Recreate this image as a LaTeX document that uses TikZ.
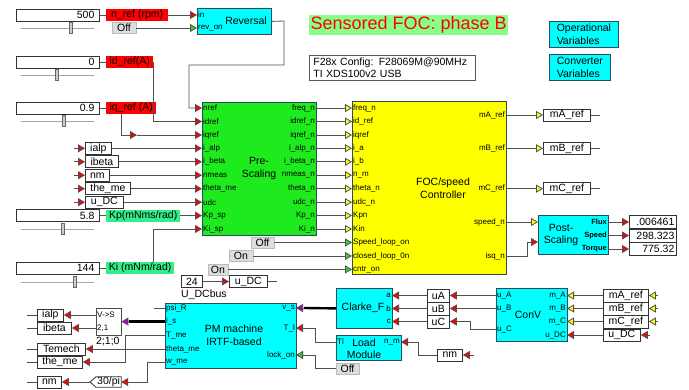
\documentclass[tikz,border=0pt]{standalone}
\usepackage{fontspec}
\setmainfont{Liberation Sans}
\usetikzlibrary{arrows.meta,positioning}
\definecolor{BlkCyan}{HTML}{00FFFF}
\definecolor{BlkEdge}{HTML}{2E4A5A}
\definecolor{PreGreen}{HTML}{1EEB1E}
\definecolor{FocYellow}{HTML}{FFFF00}
\definecolor{SigRed}{HTML}{FF0000}
\definecolor{SigYellow}{HTML}{FFFF00}
\definecolor{SigGreen}{HTML}{22DD22}
\definecolor{SigPurple}{HTML}{B000C8}
\definecolor{GainGreen}{HTML}{33EE88}
\definecolor{TitleGreen}{HTML}{88FF88}
\definecolor{BtnGray}{HTML}{DDDDDD}
\definecolor{BtnEdge}{HTML}{BBBBBB}
\definecolor{WireGray}{HTML}{505050}
\definecolor{TagEdge}{HTML}{333333}

\begin{document}
\begin{tikzpicture}[x=1pt, y=-1pt,
  font=\fontsize{10.5}{12.5}\selectfont,
  wire/.style={draw=WireGray, line width=0.8pt},
  tored/.style={wire, -{Triangle[length=7pt,width=8pt,fill=SigRed]}},
  toyel/.style={wire, -{Triangle[length=7pt,width=8pt,fill=SigYellow]}},
  togrn/.style={wire, -{Triangle[length=7pt,width=8pt,fill=SigGreen]}},
  topur/.style={wire, -{Triangle[length=7pt,width=8pt,fill=SigPurple]}},
  bus/.style={draw=black, line width=2.4pt},
  blk/.style={draw=BlkEdge, line width=0.8pt, fill=BlkCyan, inner sep=0pt, anchor=north west},
  blktitle/.style={align=center, inner sep=0pt},
  portl/.style={font=\fontsize{8}{9}\selectfont, inner sep=1pt, anchor=west},
  portr/.style={font=\fontsize{8}{9}\selectfont, inner sep=1pt, anchor=east},
  gototag/.style={draw=TagEdge, line width=0.8pt, fill=white, minimum height=12pt, inner sep=0pt, anchor=west},
  sigred/.style={fill=SigRed, minimum height=12pt, inner sep=0pt, anchor=west},
  siggreen/.style={fill=GainGreen, minimum height=12pt, inner sep=0pt, anchor=west},
  slbox/.style={draw=TagEdge, line width=0.8pt, fill=white, text width=73pt, align=right,
    inner xsep=5pt, inner ysep=0pt, minimum height=12pt, anchor=west},
  track/.style={draw=gray!70, line width=1pt},
  knob/.style={draw=gray!80!black, fill=gray!40, minimum width=3pt, minimum height=11pt, inner sep=0pt},
  btn/.style={draw=BtnEdge, fill=BtnGray, minimum height=11pt, inner sep=0pt},
  disp/.style={draw=TagEdge, line width=0.8pt, fill=white, text width=43pt, align=right,
    inner xsep=2pt, inner ysep=0pt, minimum height=13pt, anchor=west}
]
\useasboundingbox (0,0) rectangle (689,389);

% title and notes
\node[fill=TitleGreen, text=SigRed, font=\fontsize{18}{20}\selectfont, minimum width=199pt,
  minimum height=20pt, inner sep=0pt, anchor=north west] (title) at (309,15) {Sensored FOC: phase B};
\node[draw=gray!70!black, line width=0.8pt, align=left, anchor=north west, text width=158pt,
  minimum height=25pt, inner xsep=4pt, inner ysep=0pt] (config) at (309,55) {F28x Config: F28069M@90MHz\\TI XDS100v2 USB};
\node[blk, align=left, minimum width=69pt, minimum height=26pt] (opvars) at (549,21) {Operational\\Variables};
\node[blk, align=left, minimum width=61pt, minimum height=26pt] (cvvars) at (549,54) {Converter\\Variables};

% speed reference and reversal
\node[slbox] (nrefsl) at (16,15) {500};
\draw[track] (21,28) -- (94,28);
\node[knob] (nrefknob) at (71,28) {};
\node[sigred, minimum width=62pt] (nreflbl) at (106,15) {n\_ref (rpm)};
\node[btn, minimum width=24pt] (revbtn) at (124,28) {Off};
\node[blk, minimum width=74pt, minimum height=26pt] (rev) at (197,8) {};
\node[blktitle] (revtitle) at (246,21) {Reversal};
\node[portl] (rev-in) at (197,15) {in};
\node[portl] (rev-on) at (197,28) {rev\_on};
\draw[wire] (nrefsl.east) -- (nreflbl.west);
\draw[tored] (nreflbl.east) -- (rev-in.west);
\draw[togrn] (revbtn.east) -- (rev-on.west);

% current references
\node[slbox] (idsl) at (16,62) {0};
\draw[track] (21,75) -- (94,75);
\node[knob] (idknob) at (57,75) {};
\node[sigred, minimum width=47pt] (idlbl) at (106,62) {id\_ref(A)};
\draw[wire] (idsl.east) -- (idlbl.west);
\node[slbox] (iqsl) at (16,108) {0.9};
\draw[track] (21,121) -- (94,121);
\node[knob] (iqknob) at (64,121) {};
\node[sigred, minimum width=50pt] (iqlbl) at (106,108) {iq\_ref (A)};
\draw[wire] (iqsl.east) -- (iqlbl.west);

% Pre-Scaling
\node[blk, fill=PreGreen, minimum width=114pt, minimum height=133pt] (pre) at (202,102) {};
\node[blktitle] (pretitle) at (259,168.5) {Pre-\\Scaling};
\foreach \pid/\ptxt/\py in {nref/nref/108, idref/idref/121.5, iqref/iqref/135, ialp/i\_alp/148.3,
  ibeta/i\_beta/161.8, nmeas/nmeas/175.2, theta/theta\_me/188.7, udc/udc/202.2, kp/Kp\_sp/215.6, ki/Ki\_sp/229}
  \node[portl] (pre-\pid) at (202,\py) {\ptxt};
\foreach \pid/\ptxt/\py in {freq/freq\_n/108, idref/idref\_n/121.5, iqref/iqref\_n/135, ia/i\_alp\_n/148.3,
  ib/i\_beta\_n/161.8, nm/nmeas\_n/175.2, theta/theta\_n/188.7, udc/udc\_n/202.2, kp/Kp\_n/215.6, ki/Ki\_n/229}
  \node[portr] (preo-\pid) at (316,\py) {\ptxt};

% FOC/speed controller
\node[blk, fill=FocYellow, minimum width=154pt, minimum height=173pt] (foc) at (352,101) {};
\node[blktitle] (foctitle) at (443,188) {FOC/speed\\Controller};
\foreach \pid/\ptxt/\py in {freq/freq\_n/108, idref/id\_ref/121.5, iqref/iqref/135, ia/i\_a/148.3,
  ib/i\_b/161.8, nm/n\_m/175.2, theta/theta\_n/188.7, udc/udc\_n/202.2, kp/Kpn/215.6, ki/Kin/229,
  spd/Speed\_loop\_on/242.5, cl/closed\_loop\_0n/256, cntr/cntr\_on/269.4}
  \node[portl] (foc-\pid) at (352,\py) {\ptxt};
\foreach \pid/\ptxt/\py in {ma/mA\_ref/115, mb/mB\_ref/148.3, mc/mC\_ref/188.7, speed/speed\_n/222, isq/isq\_n/256}
  \node[portr] (foco-\pid) at (506,\py) {\ptxt};
\foreach \pid in {freq, idref, iqref, ia, ib, nm, theta, udc, kp, ki}
  \draw[toyel] (preo-\pid.east) -- (foc-\pid.west);

% inputs of Pre-Scaling
\draw[tored] (rev.east) -- (284,21) -- (284,65) -- (189,65) |- (pre-nref.west);
\draw[tored] (idlbl.east) |- (pre-idref.west);
\coordinate (iqdrop) at (121,114);
\coordinate (iqmid) at (137,135);
\draw[tored] (iqdrop) |- (iqmid);
\draw[tored] (iqmid) -- (pre-iqref.west);
\foreach \tid/\ttxt/\tw/\ty in {ialp/ialp/26pt/148.3, ibeta/ibeta/33pt/161.8, nmeas/nm/24pt/175.2,
  theta/the\_me/45pt/188.7, udc/u\_DC/38pt/202.2}
{
  \node[gototag, minimum width=\tw] (tagL-\tid) at (85,\ty) {\ttxt};
  \coordinate (tagL-\tid-in) at (74,\ty);
  \draw[tored] (tagL-\tid-in) -- (tagL-\tid.west);
  \draw[tored] (tagL-\tid.east) -- (pre-\tid.west);
}
\node[slbox] (kpsl) at (16,215.6) {5.8};
\draw[track] (21,229) -- (94,229);
\node[knob] (kpknob) at (63,229) {};
\node[siggreen, minimum width=74pt] (kplbl) at (106,215.6) {Kp(mNms/rad)};
\draw[wire] (kpsl.east) -- (kplbl.west);
\draw[tored] (kplbl.east) -- (pre-kp.west);
\node[slbox] (kisl) at (16,268) {144};
\draw[track] (21,282) -- (94,282);
\node[knob] (kiknob) at (75,282) {};
\node[siggreen, minimum width=68pt] (kilbl) at (106,268) {Ki (mNm/rad)};
\draw[wire] (kisl.east) -- (kilbl.west);
\coordinate (kirise) at (153,262);
\draw[tored] (kirise) |- (pre-ki.west);

% loop switches
\node[btn, minimum width=23pt] (spdbtn) at (262.5,242.5) {Off};
\node[btn, minimum width=24pt] (clbtn) at (241,256) {On};
\node[btn, minimum width=20pt] (cntrbtn) at (218,269.4) {On};
\draw[togrn] (spdbtn.east) -- (foc-spd.west);
\draw[togrn] (clbtn.east) -- (foc-cl.west);
\draw[togrn] (cntrbtn.east) -- (foc-cntr.west);

% controller outputs
\foreach \tid/\ttxt/\ty in {ma/mA\_ref/115, mb/mB\_ref/148.3, mc/mC\_ref/188.7}
{
  \node[gototag, minimum width=47pt] (tagF-\tid) at (543,\ty) {\ttxt};
  \coordinate (tagF-\tid-out) at (600,\ty);
  \draw[toyel] (foco-\tid.east) -- (tagF-\tid.west);
  \draw[wire] (tagF-\tid.east) -- (tagF-\tid-out);
}
\node[blk, minimum width=70pt, minimum height=39pt] (post) at (538,215) {};
\node[blktitle] (posttitle) at (561,235) {Post-\\Scaling};
\coordinate (post-spd) at (538,222);
\coordinate (post-isq) at (538,242);
\draw[toyel] (foco-speed.east) -- (post-spd);
\draw[tored] (foco-isq.east) -- (527,256) |- (post-isq);
\foreach \pid/\ptxt/\py/\dval in {flux/Flux/222/.006461, speed/Speed/235.5/298.323, torque/Torque/249/775.32}
{
  \node[portr, font=\fontsize{7.5}{9}\selectfont\bfseries] (posto-\pid) at (608,\py) {\ptxt};
  \node[disp] (disp-\pid) at (629,\py) {\dval};
  \draw[tored] (posto-\pid.east) -- (disp-\pid.west);
}

% DC bus
\node[gototag, minimum width=21pt] (dcconst) at (181,281.5) {24};
\node[below=2pt of dcconst.south west, anchor=north west, inner sep=0pt] (dcname) {U\_DCbus};
\node[gototag, minimum width=38pt] (udcset) at (229,281.5) {u\_DC};
\coordinate (udcset-out) at (277,281.5);
\draw[tored] (dcconst.east) -- (udcset.west);
\draw[wire] (udcset.east) -- (udcset-out);

% PM machine
\node[blk, minimum width=131pt, minimum height=65pt] (pm) at (165,303) {};
\node[blktitle] (pmtitle) at (234,335) {PM machine\\IRTF-based};
\foreach \pid/\ptxt/\py in {psi/psi\_R/308, is/i\_s/321.5, tme/T\_me/335.5, theta/theta\_me/349, wme/w\_me/362}
  \node[portl] (pm-\pid) at (165,\py) {\ptxt};
\foreach \pid/\ptxt/\py in {vs/v\_s/308, tl/T\_l/328, lock/lock\_on/355}
  \node[portr] (pmo-\pid) at (296,\py) {\ptxt};
\coordinate (psi-free) at (154,308);
\draw[wire] (psi-free) -- (pm-psi.west);

% measured signals
\node[draw=gray!60!black, fill=white, minimum width=25pt, minimum height=27pt, inner sep=0pt,
  anchor=north west] (demux) at (96,308) {};
\node[portl, inner sep=0pt] (demux-top) at (97,315) {V->S};
\node[portl, inner sep=0pt] (demux-bot) at (97,328) {2,1};
\node[anchor=north west, inner sep=0pt] (demuxdims) at (96,337) {2;1;0};
\coordinate (demux-o1) at (96,315);
\coordinate (demux-o2) at (96,328);
\coordinate (is-end) at (129,321.5);
\draw[bus] (pm-is.west) -- (is-end);
\draw[topur] (is-end) -- (demux.east);
\foreach \tid/\ttxt/\tw/\ty in {ialp/ialp/26pt/315, ibeta/ibeta/34pt/328, temech/Temech/48pt/349,
  theme/the\_me/45pt/362, nm/nm/24pt/382}
{
  \node[gototag, minimum width=\tw] (tagB-\tid) at (37,\ty) {\ttxt};
  \coordinate (tagB-\tid-out) at (27,\ty);
  \draw[wire] (tagB-\tid-out) -- (tagB-\tid.west);
}
\node[inner xsep=1pt, inner ysep=0pt, minimum height=10pt, anchor=west] (gain) at (96,382) {30/pi};
\coordinate (gaintip) at (90,382);
\draw[draw=TagEdge, line width=0.8pt] (gaintip) -- (gain.north west) -- (gain.north east)
  -- (gain.south east) -- (gain.south west) -- cycle;
\draw[tored] (demux-o1) -- (tagB-ialp.east);
\draw[tored] (demux-o2) -- (tagB-ibeta.east);
\draw[tored] (pm-theta.west) -- (tagB-temech.east);
\draw[tored] (pm-tme.west) -- (125,335.5) |- (tagB-theme.east);
\draw[tored] (pm-wme.west) -- (147,362) |- (gain.east);
\draw[tored] (gaintip) -- (tagB-nm.east);

% Clarke, load and converter
\node[blk, minimum width=56pt, minimum height=40pt] (clarke) at (336,288) {};
\node[blktitle] (clarketitle) at (363,308) {Clarke\_F};
\foreach \pid/\py in {a/295.5, b/308.5, c/321.5}
  \node[portr] (cl-\pid) at (392,\py) {\pid};
\coordinate (vs-end) at (304,308);
\draw[bus] (clarke.west) -- (vs-end);
\draw[topur] (vs-end) -- (pmo-vs.east);

\node[blk, minimum width=65pt, minimum height=25pt] (load) at (336,335) {};
\node[blktitle] (loadtitle) at (364,348.5) {Load\\Module};
\node[portl] (load-tl) at (336,342) {Tl};
\node[portr] (load-nm) at (401,342) {n\_m};
\draw[tored] (load-tl.west) -- (315,342) |- (pmo-tl.east);
\node[btn, minimum width=23pt] (lockbtn) at (347.5,368.5) {Off};
\draw[togrn] (lockbtn.west) -- (315,368.5) |- (pmo-lock.east);
\node[gototag, minimum width=25pt] (nmtag) at (437,355) {nm};
\coordinate (nmtag-in) at (474,355);
\draw[tored] (nmtag-in) -- (nmtag.east);
\draw[tored] (nmtag.west) -- (418,355) |- (load-nm.east);

\node[blk, minimum width=71pt, minimum height=53pt] (conv) at (496,288) {};
\node[blktitle] (convtitle) at (528,315) {ConV};
\foreach \pid/\ptxt/\py in {ua/u\_A/295.5, ub/u\_B/308.5, uc/u\_C/329}
  \node[portl] (cv-\pid) at (496,\py) {\ptxt};
\foreach \pid/\ptxt/\py in {ma/m\_A/295.5, mb/m\_B/308.5, mc/m\_C/321.5, udc/u\_DC/335}
  \node[portr] (cvo-\pid) at (567,\py) {\ptxt};
\foreach \tid/\ttxt/\ty/\cp in {ua/uA/295.5/a, ub/uB/308.5/b, uc/uC/321.5/c}
{
  \node[gototag, minimum width=22pt, minimum height=13pt] (tag-\tid) at (427,\ty) {\ttxt};
  \draw[tored] (tag-\tid.west) -- (cl-\cp.east);
}
\draw[tored] (cv-ua.west) -- (tag-ua.east);
\draw[tored] (cv-ub.west) -- (tag-ub.east);
\draw[tored] (cv-uc.west) -- (470,329) |- (tag-uc.east);
\foreach \tid/\ttxt/\ty in {ma/mA\_ref/295.5, mb/mB\_ref/308.5, mc/mC\_ref/321.5}
{
  \node[gototag, minimum width=45pt, minimum height=13pt] (tagR-\tid) at (603,\ty) {\ttxt};
  \coordinate (tagR-\tid-in) at (658,\ty);
  \draw[toyel] (tagR-\tid-in) -- (tagR-\tid.east);
  \draw[toyel] (tagR-\tid.west) -- (cvo-\tid.east);
}
\node[gototag, minimum width=37pt] (tagR-udc) at (603,335) {u\_DC};
\coordinate (tagR-udc-in) at (650,335);
\draw[tored] (tagR-udc-in) -- (tagR-udc.east);
\draw[tored] (tagR-udc.west) -- (cvo-udc.east);
\end{tikzpicture}
\end{document}
